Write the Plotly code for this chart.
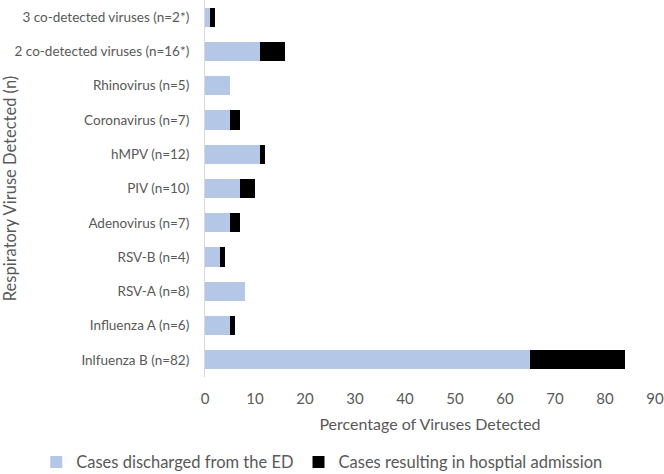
import plotly.graph_objects as go

categories = [
    "Inlfuenza B (n=82)",
    "Influenza A (n=6)",
    "RSV-A (n=8)",
    "RSV-B (n=4)",
    "Adenovirus (n=7)",
    "PIV (n=10)",
    "hMPV (n=12)",
    "Coronavirus (n=7)",
    "Rhinovirus (n=5)",
    "2 co-detected viruses (n=16*)",
    "3 co-detected viruses (n=2*)",
]
discharged = [65, 5, 8, 3, 5, 7, 11, 5, 5, 11, 1]
admitted = [19, 1, 0, 1, 2, 3, 1, 2, 0, 5, 1]
x_ticks = [0, 10, 20, 30, 40, 50, 60, 70, 80, 90]

FONT = "Lato"
GRAY = "#595959"

fig = go.Figure()
fig.add_trace(go.Bar(
    y=categories, x=discharged, orientation="h",
    name="Cases discharged from the ED",
    marker=dict(color="#B4C7E7", line=dict(width=0)),
))
fig.add_trace(go.Bar(
    y=categories, x=admitted, orientation="h",
    name="Cases resulting in hosptial admission",
    marker=dict(color="#000000", line=dict(width=0)),
))

fig.update_layout(
    barmode="stack",
    bargap=0.44,
    width=664, height=474,
    margin=dict(l=205, r=9, t=0, b=97, autoexpand=False),
    paper_bgcolor="white",
    plot_bgcolor="white",
    font=dict(family=FONT, color=GRAY, size=15),
    showlegend=True,
    legend=dict(
        orientation="h",
        x=-0.375, xanchor="left",
        y=-0.226, yanchor="middle",
        font=dict(size=16.5, color=GRAY),
        itemwidth=30,
        traceorder="normal",
        bgcolor="rgba(0,0,0,0)",
    ),
)
fig.update_xaxes(
    range=[0, 90],
    tickvals=x_ticks,
    showgrid=False,
    zeroline=False,
    showline=False,
    ticks="",
    automargin=False,
    ticklabeloverflow="allow",
    ticklabelstandoff=11,
    tickfont=dict(size=15, color=GRAY),
    title=dict(text="Percentage of Viruses Detected",
               font=dict(size=16, color=GRAY), standoff=12),
    fixedrange=True,
)
fig.update_yaxes(
    categoryorder="array",
    categoryarray=categories,
    showgrid=False,
    zeroline=False,
    showline=True,
    linecolor="#D9D9D9",
    linewidth=1,
    ticks="",
    automargin=False,
    ticklabelstandoff=12,
    tickfont=dict(size=13.5, color=GRAY),
    title=dict(text="Respiratory Viruse Detected (n)",
               font=dict(size=16.5, color=GRAY), standoff=4),
    range=[-0.5, 10.5],
    fixedrange=True,
)

fig.write_html(
    "out.html",
    config={"displayModeBar": False},
    post_script="document.body.style.margin='0';document.body.style.overflow='hidden';",
)
